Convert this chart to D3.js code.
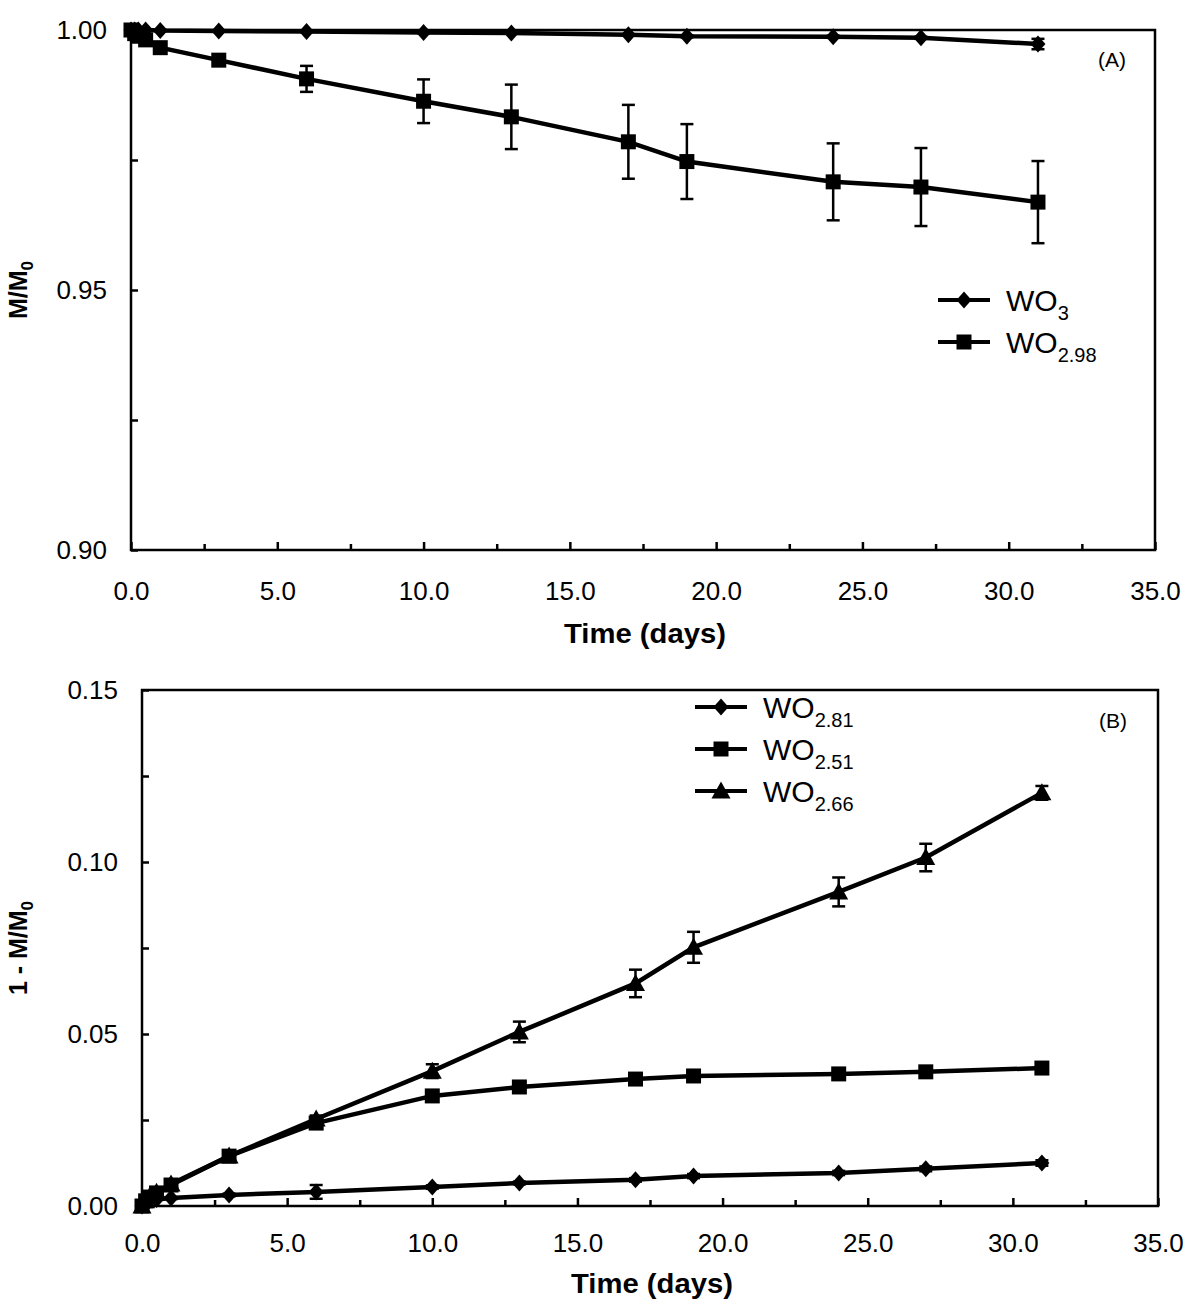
<!DOCTYPE html>
<html><head><meta charset="utf-8">
<script src="https://cdn.jsdelivr.net/npm/d3@7"></script>
<style>body{margin:0;background:#fff}svg{display:block}text{font-family:"Liberation Sans",Arial,sans-serif;fill:#000}</style>
</head><body><svg id="c" width="1200" height="1315"></svg>
<script>
// ---------- Data ----------
const timeDays = [0, 0.125, 0.25, 0.5, 1, 3, 6, 10, 13, 17, 19, 24, 27, 31];

// Panel A: M/M0
const wo3 = [1.0000, 1.0000, 1.0000, 1.0000, 0.9999, 0.9998, 0.9997, 0.9995, 0.9994, 0.9991, 0.9988, 0.9987, 0.9985, 0.9973];
const wo3Err = [0, 0, 0, 0, 0.0001, 0.0001, 0.0001, 0.0001, 0.0001, 0.0001, 0.0002, 0.0002, 0.0002, 0.0010];
const wo298 = [1.0000, 0.9993, 0.9988, 0.9981, 0.9966, 0.9942, 0.9906, 0.9863, 0.9833, 0.9785, 0.9747, 0.9708, 0.9698, 0.9669];
const wo298Err = [0, 0, 0.0002, 0.0003, 0.0004, 0.0008, 0.0025, 0.0042, 0.0062, 0.0071, 0.0072, 0.0074, 0.0075, 0.0079];

// Panel B: 1 - M/M0
const wo281 = [0, 0.0010, 0.0015, 0.0019, 0.0023, 0.0032, 0.0041, 0.0055, 0.0067, 0.0076, 0.0087, 0.0096, 0.0108, 0.0125];
const wo281Err = [0, 0, 0, 0, 0.0003, 0.0004, 0.0020, 0.0005, 0.0004, 0.0005, 0.0006, 0.0006, 0.0007, 0.0008];
const wo251 = [0, 0.0015, 0.0026, 0.0038, 0.0061, 0.0145, 0.0241, 0.0320, 0.0346, 0.0369, 0.0378, 0.0384, 0.0390, 0.0401];
const wo251Err = [0, 0, 0, 0, 0.0003, 0.0005, 0.0006, 0.0007, 0.0007, 0.0007, 0.0007, 0.0007, 0.0007, 0.0008];
const wo266 = [0, 0.0015, 0.0026, 0.0040, 0.0064, 0.0145, 0.0253, 0.0392, 0.0506, 0.0647, 0.0752, 0.0913, 0.1013, 0.1201];
const wo266Err = [0, 0, 0, 0, 0.0004, 0.0008, 0.0010, 0.0020, 0.0030, 0.0040, 0.0045, 0.0042, 0.0040, 0.0020];

const xTicks = [0, 5, 10, 15, 20, 25, 30, 35];
const xMinorTicks = [2.5, 7.5, 12.5, 17.5, 22.5, 27.5, 32.5];
const yTicksA = [0.90, 0.95, 1.00];
const yMinorA = [0.925, 0.975];
const yTicksB = [0, 0.05, 0.10, 0.15];
const yMinorB = [0.025, 0.075, 0.125];

const svg = d3.select("#c");

function symbolPath(shape) {
  if (shape === "diamond") return "M0,-8.5L7.5,0L0,8.5L-7.5,0Z";
  if (shape === "square") return "M-7.5,-7.5H7.5V7.5H-7.5Z";
  return "M0,-9.5L9.5,7.5H-9.5Z";
}

function panel(o) {
  const x = d3.scaleLinear().domain([0, 35]).range([o.x0, o.x1]);
  const y = d3.scaleLinear().domain(o.yDomain).range([o.y1, o.y0]);
  const g = svg.append("g");
  g.append("rect").attr("x", o.x0).attr("y", o.y0).attr("width", o.x1 - o.x0).attr("height", o.y1 - o.y0)
    .attr("fill", "none").attr("stroke", "#000").attr("stroke-width", 2.5);
  const xa = g.append("g").attr("transform", `translate(0,${o.y1})`)
    .call(d3.axisBottom(x).tickValues(xTicks).tickSize(-8).tickPadding(o.xPad).tickFormat(d3.format(".1f")));
  xa.select(".domain").remove();
  xa.selectAll("line").attr("stroke-width", 2.5);
  xa.selectAll("text").attr("font-size", 26).attr("dy", "0.71em");
  const xm = g.append("g").attr("transform", `translate(0,${o.y1})`)
    .call(d3.axisBottom(x).tickValues(xMinorTicks).tickSize(-6).tickFormat(""));
  xm.select(".domain").remove();
  xm.selectAll("line").attr("stroke-width", 2.5);
  const ya = g.append("g").attr("transform", `translate(${o.x0},0)`)
    .call(d3.axisLeft(y).tickValues(o.yTicks).tickSize(-7).tickPadding(o.yPad).tickFormat(d3.format(".2f")));
  ya.select(".domain").remove();
  ya.selectAll("line").attr("stroke-width", 2.5);
  ya.selectAll("text").attr("font-size", 26);
  const ym = g.append("g").attr("transform", `translate(${o.x0},0)`)
    .call(d3.axisLeft(y).tickValues(o.yMinor).tickSize(-7).tickFormat(""));
  ym.select(".domain").remove();
  ym.selectAll("line").attr("stroke-width", 2.5);

  g.append("text").attr("x", (o.x0 + o.x1) / 2 + 2).attr("y", o.y1 + o.xTitleOff).attr("text-anchor", "middle")
    .attr("font-size", 27).attr("font-weight", "bold").attr("textLength", 162).attr("lengthAdjust", "spacingAndGlyphs").text("Time (days)");
  const yt = g.append("text").attr("transform", `translate(${o.yTitleX},${(o.y0 + o.y1) / 2}) rotate(-90)`)
    .attr("text-anchor", "middle").attr("font-size", 25).attr("font-weight", "bold");
  yt.append("tspan").text(o.yTitle);
  yt.append("tspan").attr("font-size", 17).attr("dy", 6).text("0");
  g.append("text").attr("x", o.tagX).attr("y", o.tagY).attr("font-size", 21).attr("text-anchor", "middle").text(o.tag);

  o.series.forEach(s => {
    const pts = timeDays.map((t, i) => ({ t, v: s.values[i], e: s.err[i] }));
    g.append("path").datum(pts).attr("fill", "none").attr("stroke", "#000").attr("stroke-width", 4.5)
      .attr("d", d3.line().x(d => x(d.t)).y(d => y(d.v)));
    const eb = g.append("g");
    pts.filter(d => d.e > 0).forEach(d => {
      const cx = x(d.t), ya_ = y(d.v + d.e), yb = y(d.v - d.e);
      eb.append("line").attr("x1", cx).attr("x2", cx).attr("y1", ya_).attr("y2", yb).attr("stroke", "#000").attr("stroke-width", 2.5);
      [ya_, yb].forEach(yy => eb.append("line").attr("x1", cx - 6.5).attr("x2", cx + 6.5).attr("y1", yy).attr("y2", yy).attr("stroke", "#000").attr("stroke-width", 2.5));
    });
    g.append("g").selectAll("path").data(pts).join("path")
      .attr("transform", d => `translate(${x(d.t)},${y(d.v)})`)
      .attr("d", symbolPath(s.shape)).attr("fill", "#000");
  });

  o.series.forEach((s, i) => {
    const ly = o.legY + i * o.legDy;
    g.append("line").attr("x1", o.legX).attr("x2", o.legX + 52).attr("y1", ly).attr("y2", ly).attr("stroke", "#000").attr("stroke-width", 4);
    g.append("path").attr("transform", `translate(${o.legX + 26},${ly})`).attr("d", symbolPath(s.shape)).attr("fill", "#000");
    const t = g.append("text").attr("x", o.legX + 68).attr("y", ly + 11).attr("font-size", 30);
    t.append("tspan").text("WO");
    t.append("tspan").attr("font-size", 20).attr("dy", 9).text(s.sub);
  });
}

panel({
  x0: 131, x1: 1155, y0: 30, y1: 550, yDomain: [0.90, 1.00], yTicks: yTicksA, yMinor: yMinorA, yPad: 24,
  xPad: 32, xTitleOff: 93,
  yTitle: "M/M", yTitleX: 27, tag: "(A)", tagX: 1112, tagY: 67,
  legX: 938, legY: 300, legDy: 42,
  series: [
    { values: wo3, err: wo3Err, shape: "diamond", sub: "3" },
    { values: wo298, err: wo298Err, shape: "square", sub: "2.98" }
  ]
});
panel({
  x0: 142, x1: 1158, y0: 690, y1: 1206, yDomain: [0, 0.15], yTicks: yTicksB, yMinor: yMinorB, yPad: 24,
  xPad: 28, xTitleOff: 87,
  yTitle: "1 - M/M", yTitleX: 27, tag: "(B)", tagX: 1113, tagY: 728,
  legX: 695, legY: 707, legDy: 42,
  series: [
    { values: wo281, err: wo281Err, shape: "diamond", sub: "2.81" },
    { values: wo251, err: wo251Err, shape: "square", sub: "2.51" },
    { values: wo266, err: wo266Err, shape: "triangle", sub: "2.66" }
  ]
});
</script></body></html>
